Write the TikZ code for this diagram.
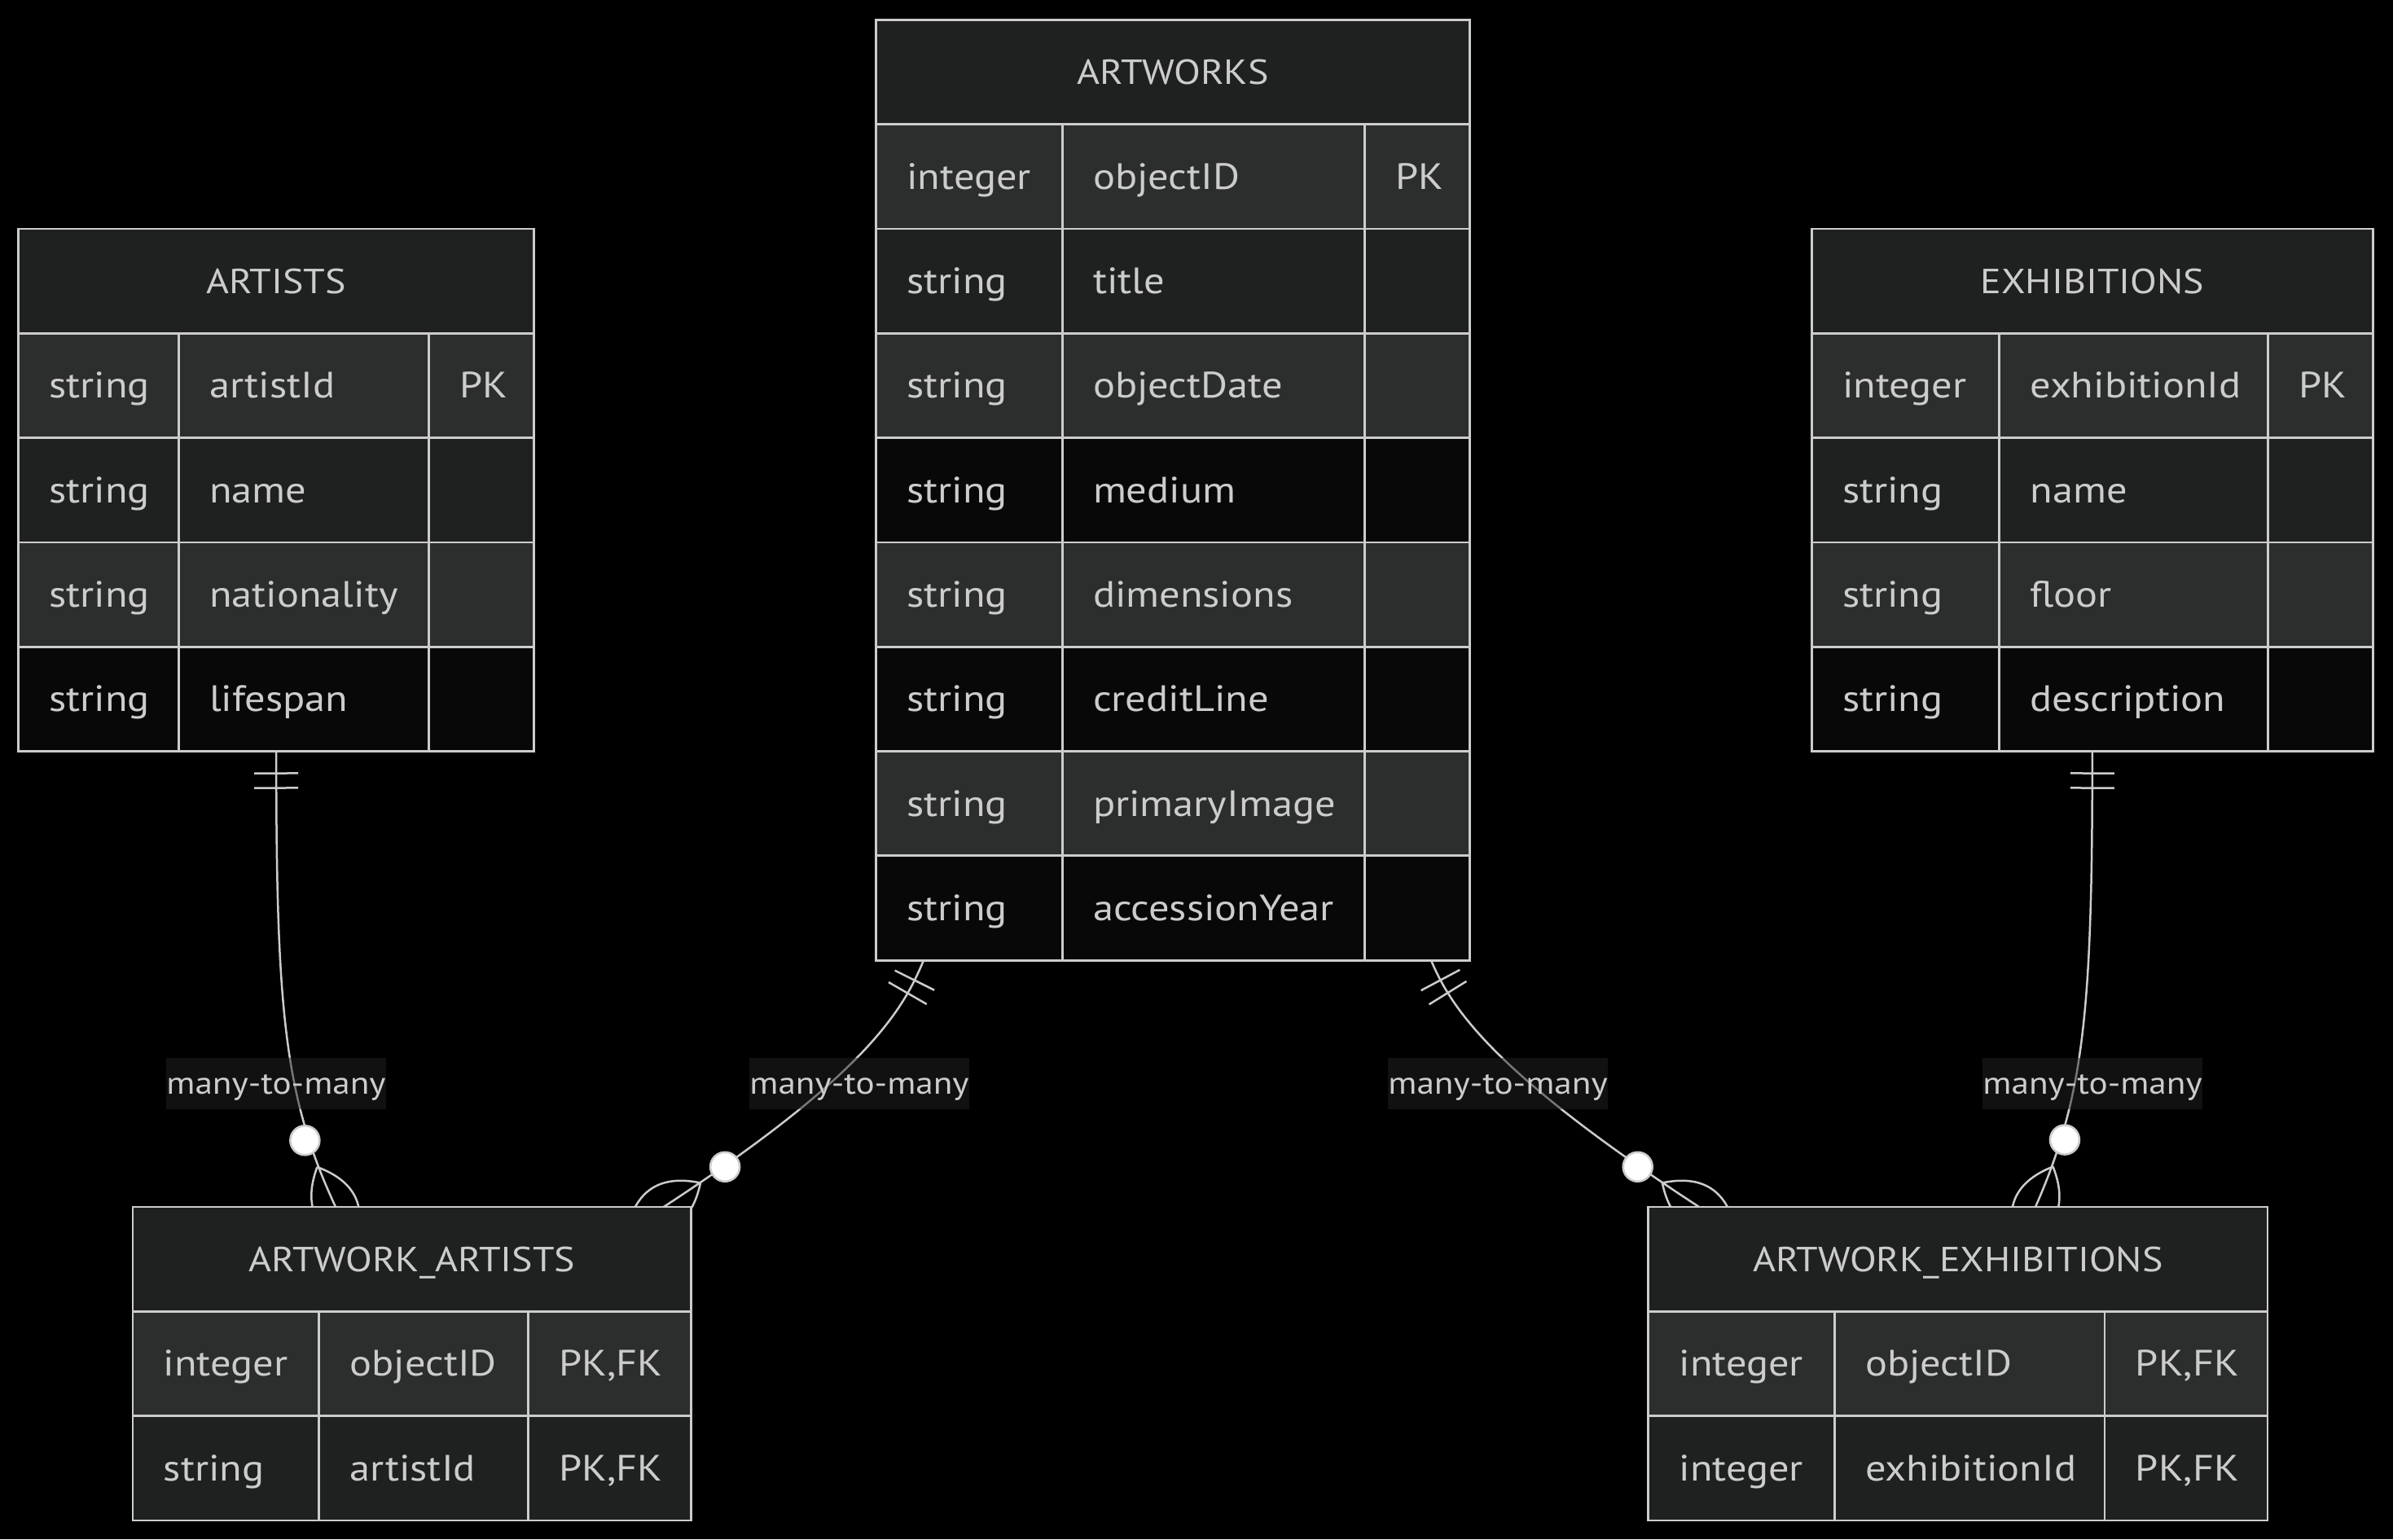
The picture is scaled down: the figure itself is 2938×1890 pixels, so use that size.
\documentclass[tikz,border=0pt]{standalone}
\usepackage{fontspec}
\setmainfont{PT Sans}[FakeStretch=1.12]
\usetikzlibrary{calc,decorations.markings}

\definecolor{canvas}{HTML}{000000}
\definecolor{hdrfill}{HTML}{1F2020}
\definecolor{rowlight}{HTML}{2C2D2D}
\definecolor{rowdark}{HTML}{080808}
\definecolor{bordc}{HTML}{CCCCCC}
\definecolor{txtc}{HTML}{CCCCCC}
\definecolor{lblbg}{HTML}{222222}

\newcommand{\bodyfnt}{\fontsize{22.5}{27}\selectfont}
\newcommand{\titlefnt}{\fontsize{21.4}{26}\selectfont}
\newcommand{\lblfnt}{\fontsize{19.3}{23}\selectfont}
\newcommand{\pkfk}{PK,FK}
\newcommand{\rowh}{128.3}

\pgfdeclarelayer{bglayer}
\pgfdeclarelayer{edgelayer}
\pgfsetlayers{bglayer,edgelayer,main}

% one entity table: name, left, top, first divider, second divider, right, title, rows, row count
\newcommand{\erentity}[9]{%
  \node[hdr, anchor=north west, minimum width={(#6-#2)*0.5pt}] (#1-title) at (#2,#3) {#7};
  \foreach \ty/\nm/\ky/\sh [count=\i] in {#8} {
    \pgfmathsetmacro\yt{#3+\i*\rowh}
    \node[cell, fill=\sh, anchor=north west, minimum width={(#4-#2)*0.5pt}] (#1-\i-a) at (#2,\yt) {};
    \node[cell, fill=\sh, anchor=north west, minimum width={(#5-#4)*0.5pt}] (#1-\i-b) at (#4,\yt) {};
    \node[cell, fill=\sh, anchor=north west, minimum width={(#6-#5)*0.5pt}] (#1-\i-c) at (#5,\yt) {};
    \node[ctext] (#1-\i-at) at ($(#1-\i-a.west)+(37.5,15.5)$) {\ty};
    \node[ctext] (#1-\i-bt) at ($(#1-\i-b.west)+(37.5,15.5)$) {\nm};
    \node[ctext] (#1-\i-ct) at ($(#1-\i-c.west)+(37.5,15.5)$) {\ky};
  }
  \node[frame, anchor=north west, minimum width={(#6-#2)*0.5pt},
        minimum height={(#9+1)*\rowh*0.5pt}] (#1) at (#2,#3) {};
}

\begin{document}
\begin{tikzpicture}[x=0.5pt,y=-0.5pt,
  cell/.style={draw=bordc, line width=1.4pt, inner sep=0pt, outer sep=0pt,
               minimum height={\rowh*0.5pt}},
  hdr/.style={cell, fill=hdrfill, text=txtc, font=\titlefnt,
              text height=15pt, text depth=0pt},
  ctext/.style={anchor=base west, inner sep=0pt, text=txtc, font=\bodyfnt},
  frame/.style={draw=bordc, line width=1.4pt, inner sep=0pt, outer sep=0pt},
  lbl/.style={fill=lblbg, fill opacity=0.5, text opacity=1, text=txtc,
              font=\lblfnt, inner sep=0pt, minimum width=135pt,
              text height=22.5pt, text depth=9pt},
  tick/.style={draw=bordc, line width=1.25pt},
  % one-only bars at the start, zero-or-many circle and crow's foot at the end
  rel/.style={draw=bordc, line width=1.25pt, postaction={decorate},
    decoration={markings,
      mark=at position 13.5pt with {\draw[tick] (0,-27) -- (0,27);},
      mark=at position 22.5pt with {\draw[tick] (0,-27) -- (0,27);},
      mark=at position -1pt with {%
        \draw[tick] (-52,0) .. controls (-16,36) and (20,36) .. (56,0)
                    .. controls (20,-36) and (-16,-36) .. (-52,0);
        \draw[tick, fill=white] (-88,0) circle[radius=9pt];}}}
]

\begin{pgfonlayer}{bglayer}
  \fill[canvas] (0,0) rectangle (2938,1890);
\end{pgfonlayer}
\useasboundingbox (0,0) rectangle (2938,1890);

% entity tables
\erentity{artists}{22.5}{281}{219.2}{526.5}{655.8}{ARTISTS}{%
  string/artistId/PK/rowlight, string/name//hdrfill,
  string/nationality//rowlight, string/lifespan//rowdark}{4}

\erentity{artworks}{1075.5}{24.4}{1304.1}{1675.1}{1804.4}{ARTWORKS}{%
  integer/objectID/PK/rowlight, string/title//hdrfill,
  string/objectDate//rowlight, string/medium//rowdark,
  string/dimensions//rowlight, string/creditLine//rowdark,
  string/primaryImage//rowlight, string/accessionYear//rowdark}{8}

\erentity{exhibitions}{2224.1}{281}{2454.6}{2784.3}{2913.6}{EXHIBITIONS}{%
  integer/exhibitionId/PK/rowlight, string/name//hdrfill,
  string/floor//rowlight, string/description//rowdark}{4}

\erentity{aa}{163}{1482}{391.6}{648.3}{848.8}{ARTWORK\_ARTISTS}{%
  integer/objectID/\pkfk/rowlight, string/artistId/\pkfk/hdrfill}{2}

\erentity{ae}{2023.6}{1482}{2252.2}{2583.9}{2784}{ARTWORK\_EXHIBITIONS}{%
  integer/objectID/\pkfk/rowlight, integer/exhibitionId/\pkfk/hdrfill}{2}

% relationships, kept behind the tables
\begin{pgfonlayer}{edgelayer}
  \draw[rel] (artists.south) .. controls +(0,320) and +(-63,-136)
        .. ($(aa.north west)+(249,0)$);
  \draw[rel] ($(artworks.south west)+(58.5,0)$) .. controls +(-25,60) and +(251,-164)
        .. ($(aa.north east)+(-34,0)$);
  \draw[rel] ($(artworks.south east)+(-47.4,0)$) .. controls +(25,60) and +(-251,-164)
        .. ($(ae.north west)+(62.4,0)$);
  \draw[rel] (exhibitions.south) .. controls +(0,320) and +(60,-137)
        .. ($(ae.north east)+(-285,0)$);

  \node[lbl] (lab1) at (339,1330) {many-to-many};
  \node[lbl] (lab2) at (1055,1330) {many-to-many};
  \node[lbl] (lab3) at (1839,1330) {many-to-many};
  \node[lbl] (lab4) at (2569,1330) {many-to-many};
\end{pgfonlayer}

\end{tikzpicture}
\end{document}
